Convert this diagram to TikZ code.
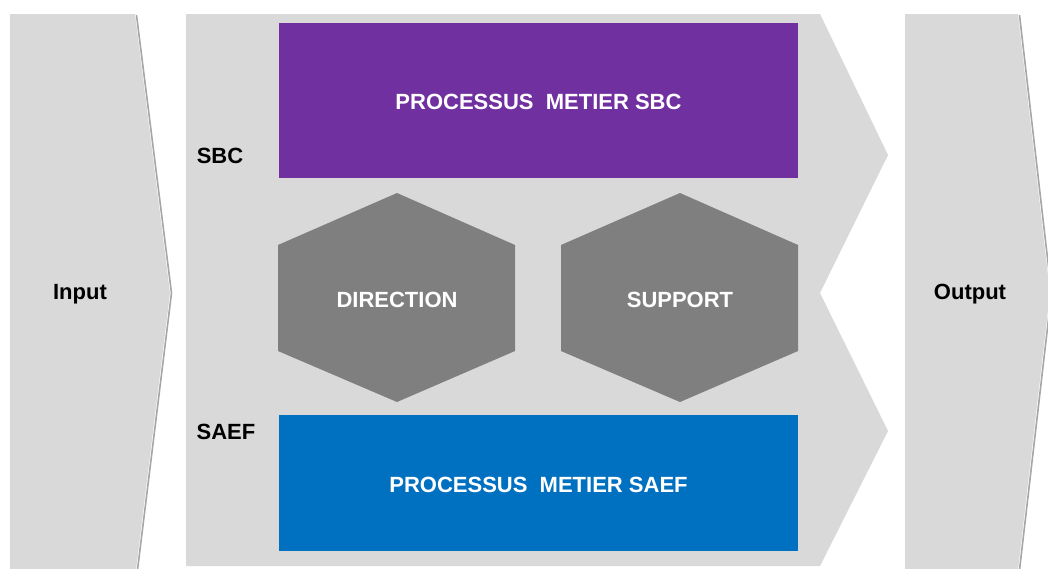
\documentclass[tikz,border=0pt]{standalone}
\usepackage{fontspec}
\setmainfont{Liberation Sans}
\definecolor{panel}{HTML}{D9D9D9}
\definecolor{shadowc}{HTML}{A6A6A6}
\definecolor{sbcpurple}{HTML}{7030A0}
\definecolor{saefblue}{HTML}{0070C0}
\definecolor{hexgrey}{HTML}{7F7F7F}
\begin{document}
\begin{tikzpicture}[x=1pt,y=-1pt,
  lbl/.style={font=\bfseries\fontsize{22}{26}\selectfont, text=black},
  wlbl/.style={font=\bfseries\fontsize{22}{26}\selectfont, text=white},
  shadowline/.style={draw=shadowc, line width=1.6pt}]
\useasboundingbox (0,0) rectangle (1048,568);
\clip (0,0) rectangle (1048,568);
\fill[white] (0,0) rectangle (1048,568);
% Input chevron
\draw[shadowline] (136.5,15) -- (171.5,293) -- (137.5,570);
\fill[panel] (10,14) -- (135,14) -- (170,293) -- (136,570) -- (10,570) -- cycle;
\node[lbl] (input) at (80,294) {Input};
% Middle double chevron
\fill[panel] (186,14) -- (820,14) -- (888,155) -- (820,293) -- (888,431) -- (820,566) -- (186,566) -- cycle;
% Output chevron
\draw[shadowline] (1019.5,15) -- (1051.5,293) -- (1019.5,570);
\fill[panel] (905,14) -- (1018,14) -- (1050,293) -- (1018,570) -- (905,570) -- cycle;
\node[lbl] (output) at (970,294) {Output};
% Process boxes
\fill[sbcpurple] (279,23) rectangle (798,178);
\node[wlbl] (sbcproc) at (538.5,102) {PROCESSUS\ \ METIER SBC};
\fill[saefblue] (279,415) rectangle (798,551);
\node[wlbl] (saefproc) at (538.5,485) {PROCESSUS\ \ METIER SAEF};
% side labels
\node[lbl] (sbc) at (220,156) {SBC};
\node[lbl] (saef) at (226,432) {SAEF};
% Hexagons
\fill[hexgrey] (397,193) -- (515,245) -- (515,351) -- (397,402) -- (278,351) -- (278,245) -- cycle;
\node[wlbl] (direction) at (397,300) {DIRECTION};
\fill[hexgrey] (680,193) -- (798,245) -- (798,351) -- (680,402) -- (561,351) -- (561,245) -- cycle;
\node[wlbl] (support) at (680,300) {SUPPORT};
\end{tikzpicture}
\end{document}
